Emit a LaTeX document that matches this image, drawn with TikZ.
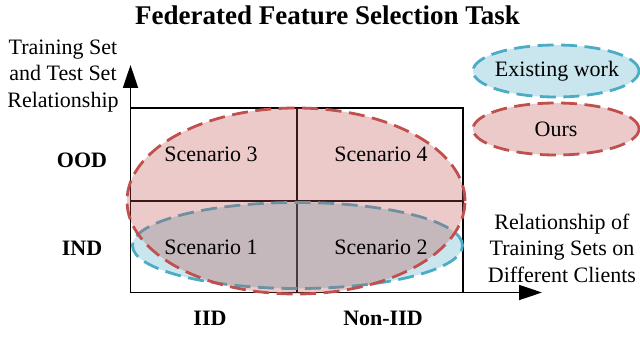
\documentclass[tikz,border=0pt]{standalone}
\usepackage{fontspec}
\setmainfont{Liberation Serif}
\usetikzlibrary{arrows.meta}
\definecolor{redc}{HTML}{C0504D}
\definecolor{bluec}{HTML}{4BACC6}
\tikzset{
  lbl/.style={font=\fontsize{22}{26.5}\selectfont, inner sep=0pt, align=center},
  bl/.style={font=\fontsize{22}{26.5}\selectfont\bfseries, inner sep=0pt},
  ttl/.style={font=\fontsize{27}{32}\selectfont\bfseries, inner sep=0pt},
  boxline/.style={line width=1.8pt, black},
  axis/.style={line width=1.8pt, black, -{Triangle[length=23pt,width=15pt]}},
  redell/.style={draw=redc, fill=redc, fill opacity=0.3, draw opacity=1, line width=2.8pt, dash pattern=on 16pt off 7.5pt},
  blueell/.style={draw=bluec, fill=bluec, fill opacity=0.3, draw opacity=1, line width=2.8pt, dash pattern=on 16pt off 7.5pt},
}
\begin{document}
\begin{tikzpicture}[x=1pt,y=-1pt]
\useasboundingbox (0,0) rectangle (640,337);
% box and grid
\draw[boxline] (130.5,108) rectangle (463,292.5);
\draw[boxline] (297,108) -- (297,292.5);
\draw[boxline] (130.5,201) -- (463,201);
% axes
\coordinate (o) at (130.5,292.5);
\coordinate (ytip) at (130.5,65);
\coordinate (xtip) at (542,292.5);
\draw[axis] (o) -- (ytip);
\draw[axis] (o) -- (xtip);
% ellipses
\path[blueell] (297.5,245.5) ellipse [x radius=165pt, y radius=43pt];
\path[redell] (296,201) ellipse [x radius=169pt, y radius=93pt];
% legend
\path[blueell] (556,71) ellipse [x radius=83pt, y radius=26pt];
\path[redell] (556,129) ellipse [x radius=83pt, y radius=26pt];
\node[lbl] (lgE) at (557,71) {Existing work};
\node[lbl] (lgO) at (556,129) {Ours};
% texts
\node[ttl] (title) at (327.5,15) {Federated Feature Selection Task};
\node[lbl] (ylab) at (63,76) {Training Set\\and Test Set\\Relationship};
\node[lbl] (xlab) at (562,248) {Relationship of\\Training Sets on\\Different Clients};
\node[bl] (ood) at (82,160) {OOD};
\node[bl] (ind) at (82,248) {IND};
\node[bl] (iid) at (210,318) {IID};
\node[bl] (niid) at (383,318) {Non-IID};
\node[lbl] (s3) at (211,154) {Scenario 3};
\node[lbl] (s4) at (381,154) {Scenario 4};
\node[lbl] (s1) at (211,247) {Scenario 1};
\node[lbl] (s2) at (381,247) {Scenario 2};
\end{tikzpicture}
\end{document}
